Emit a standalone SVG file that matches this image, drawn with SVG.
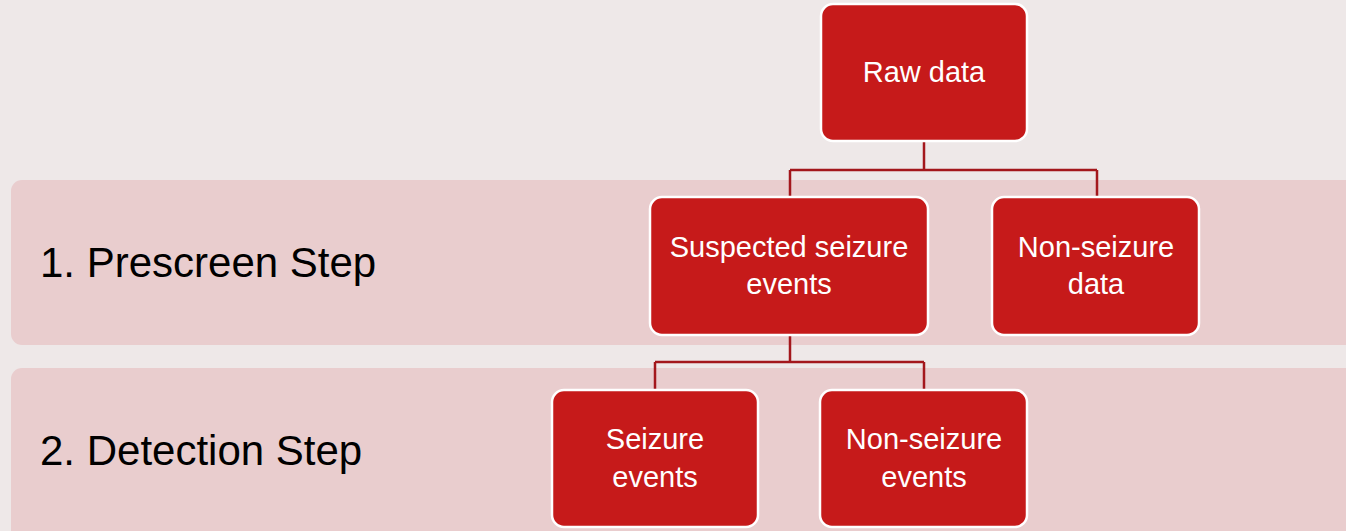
<svg xmlns="http://www.w3.org/2000/svg" width="1346" height="531" viewBox="0 0 1346 531">
<style>
.band{fill:#E9CDCE}
.node rect{fill:#C61A1A;stroke:#FFFFFF;stroke-width:2.5}
.node text{fill:#FFFFFF;font-family:"Liberation Sans",Arial,sans-serif;font-size:29px;text-anchor:middle}
.lbl{fill:#000000;font-family:"Liberation Sans",Arial,sans-serif;font-size:42px}
.conn path{fill:none;stroke:#A3171C;stroke-width:2.5}
</style>
<rect x="0" y="0" width="1346" height="531" fill="#EEE8E8"/>
<g id="band1"><rect class="band" x="11" y="180" width="1360" height="165" rx="11"/><text class="lbl" x="40" y="277">1. Prescreen Step</text></g>
<g id="band2"><rect class="band" x="11" y="368" width="1360" height="180" rx="11"/><text class="lbl" x="40" y="465">2. Detection Step</text></g>
<g class="conn" id="connectors">
<path d="M924 141 V170 M790 170 H1097 M790 170 V197 M1097 170 V197"/>
<path d="M790 335 V362 M655 362 H924 M655 362 V390 M924 362 V390"/>
</g>
<g class="node" id="raw"><rect x="821" y="4" width="206" height="137" rx="12"/><text x="924" y="82">Raw data</text></g>
<g class="node" id="suspected"><rect x="650" y="197" width="278" height="138" rx="12"/><text x="789" y="257">Suspected seizure</text><text x="789" y="294">events</text></g>
<g class="node" id="nonseizuredata"><rect x="992" y="197" width="207" height="138" rx="12"/><text x="1096" y="257">Non-seizure</text><text x="1096" y="294">data</text></g>
<g class="node" id="seizure"><rect x="552" y="390" width="206" height="137" rx="12"/><text x="655" y="449">Seizure</text><text x="655" y="487">events</text></g>
<g class="node" id="nonseizureevents"><rect x="820" y="390" width="207" height="137" rx="12"/><text x="924" y="449">Non-seizure</text><text x="924" y="487">events</text></g>
</svg>
